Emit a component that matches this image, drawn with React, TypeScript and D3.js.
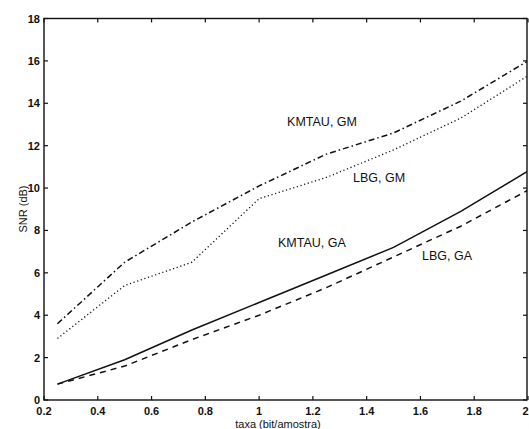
import React from "react";
import * as d3 from "d3";

const rate = [0.25, 0.5, 0.75, 1, 1.25, 1.5, 1.75, 2];
const kmtauGM = [3.6, 6.5, 8.4, 10.1, 11.6, 12.6, 14.1, 16.0];
const lbgGM = [2.9, 5.4, 6.5, 9.5, 10.5, 11.8, 13.3, 15.3];
const kmtauGA = [0.75, 1.9, 3.3, 4.6, 5.9, 7.2, 8.9, 10.8];
const lbgGA = [0.75, 1.6, 2.85, 4.0, 5.3, 6.75, 8.2, 9.9];

const xTicks = [0.2, 0.4, 0.6, 0.8, 1, 1.2, 1.4, 1.6, 1.8, 2];
const yTicks = [0, 2, 4, 6, 8, 10, 12, 14, 16, 18];

const seriesNames = ["KMTAU, GM", "LBG, GM", "KMTAU, GA", "LBG, GA"];
const seriesData = [kmtauGM, lbgGM, kmtauGA, lbgGA];
const seriesDash = ["6,3,1.5,3", "1.2,2.6", "", "6,5"];
// label anchor positions in data units (x, y)
const labelX = [1.104, 1.349, 1.07, 1.606];
const labelY = [12.92, 10.28, 7.2, 6.6];

const W = 529;
const H = 429;
const left = 44;
const right = 527;
const top = 18.5;
const bottom = 400;

export default function App() {
  const x = d3.scaleLinear().domain([0.2, 2]).range([left, 528]);
  const y = d3.scaleLinear().domain([0, 18]).range([bottom, top]);
  const line = d3
    .line<[number, number]>()
    .x((d) => x(d[0]))
    .y((d) => y(d[1]));
  const font = "'Liberation Sans', Arial, Helvetica, sans-serif";
  const tl = 4;

  return (
    <svg
      width={W}
      height={H}
      style={{ position: "absolute", left: 0, top: 0, background: "#fff" }}
      fontFamily={font}
    >
      <rect x={0} y={0} width={W} height={H} fill="#fff" />
      <defs>
        <clipPath id="plot">
          <rect x={left} y={top} width={right - left} height={bottom - top} />
        </clipPath>
      </defs>
      <rect
        x={left}
        y={top}
        width={right - left}
        height={bottom - top}
        fill="none"
        stroke="#111"
        strokeWidth={1.4}
      />
      {xTicks.map((t, i) => {
        const last = i === xTicks.length - 1;
        return (
          <g key={"x" + t}>
            <line x1={x(t)} x2={x(t)} y1={bottom} y2={bottom - tl} stroke="#111" strokeWidth={1.2} />
            <line x1={x(t)} x2={x(t)} y1={top} y2={top + tl} stroke="#111" strokeWidth={1.2} />
            <text
              x={last ? 528.5 : x(t)}
              y={415}
              textAnchor={last ? "end" : "middle"}
              fontSize={11}
              fontWeight="bold"
              fill="#111"
            >
              {String(t)}
            </text>
          </g>
        );
      })}
      {yTicks.map((t) => (
        <g key={"y" + t}>
          <line x1={left} x2={left + tl} y1={y(t)} y2={y(t)} stroke="#111" strokeWidth={1.2} />
          <line x1={right} x2={right - tl} y1={y(t)} y2={y(t)} stroke="#111" strokeWidth={1.2} />
          <text
            x={40}
            y={y(t) + 4}
            textAnchor="end"
            fontSize={11}
            fontWeight="bold"
            fill="#111"
          >
            {String(t)}
          </text>
        </g>
      ))}
      <text
        transform={`translate(27,209) rotate(-90)`}
        textAnchor="middle"
        fontSize={11}
        fill="#111"
      >
        SNR (dB)
      </text>
      <text x={278} y={428} textAnchor="middle" fontSize={11} fill="#111">
        taxa (bit/amostra)
      </text>
      <g clipPath="url(#plot)">
        {seriesData.map((s, i) => (
          <path
            key={seriesNames[i]}
            d={line(rate.map((r, j) => [r, s[j]] as [number, number])) || ""}
            fill="none"
            stroke="#111"
            strokeWidth={i === 1 ? 1.3 : 1.5}
            strokeDasharray={seriesDash[i] || undefined}
          />
        ))}
      </g>
      {seriesNames.map((n, i) => (
        <text
          key={"l" + n}
          x={x(labelX[i])}
          y={y(labelY[i])}
          fontSize={12.5}
          fill="#111"
        >
          {n}
        </text>
      ))}
    </svg>
  );
}
